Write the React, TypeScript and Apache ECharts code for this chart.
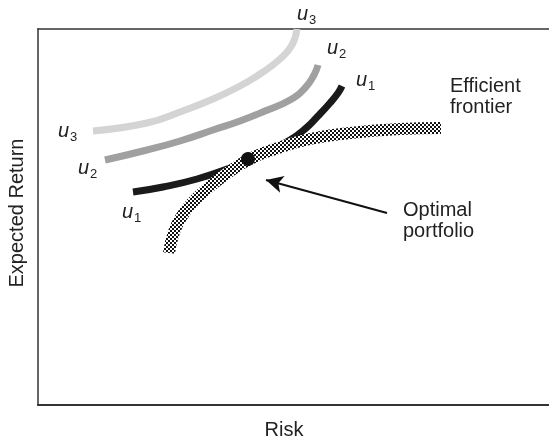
import { useEffect, useRef } from 'react';
import * as echarts from 'echarts';

// Values (risk on x, expected return on y; arbitrary units)
const u3Risk = [55, 109, 142, 175, 202, 222, 242, 254, 259];
const u3Return = [274, 282, 293, 306, 319, 331, 346, 360, 376];

const u2Risk = [67, 109, 142, 175, 202, 227, 252, 267, 276, 280];
const u2Return = [245, 255, 264, 275, 284, 294, 305, 317, 330, 340];

const u1Risk = [95, 125, 159, 192, 210, 232, 252, 267, 280, 292, 300, 304];
const u1Return = [213, 218, 226, 237, 245, 255, 265, 276, 289, 302, 312, 319];

const frontierRisk = [131, 136, 144, 155, 169, 184, 210, 237, 272, 312, 362, 403];
const frontierReturn = [152, 173, 189, 203, 216, 228, 245, 256, 266, 272, 276, 277];

const optimalRisk = [210];
const optimalReturn = [246];

const arrowFrom = [349, 192];
const arrowTo = [228, 225];

const xMax = 511;
const yMax = 376;

const pair = (xs: number[], ys: number[]) => xs.map((x, i) => [x, ys[i]]);

const FONT = "'Liberation Sans', Arial, Helvetica, sans-serif";
const TXT = '#222';

function uLabel(x: number, y: number, sub: string) {
  return [
    {
      type: 'text',
      x,
      y,
      style: { text: 'u', fontSize: 20, fontStyle: 'italic', fontFamily: FONT, fill: TXT, align: 'left', verticalAlign: 'middle' },
    },
    {
      type: 'text',
      x: x + 12,
      y: y + 6,
      style: { text: sub, fontSize: 13, fontFamily: FONT, fill: TXT, align: 'left', verticalAlign: 'middle' },
    },
  ];
}

export default function App() {
  const ref = useRef<HTMLDivElement>(null);
  useEffect(() => {
    const chart = echarts.init(ref.current!, null, { renderer: 'svg' });
    const cv = document.createElement('canvas');
    cv.width = 4;
    cv.height = 4;
    const ctx = cv.getContext('2d')!;
    ctx.fillStyle = '#ffffff';
    ctx.fillRect(0, 0, 4, 4);
    ctx.fillStyle = '#111111';
    ctx.fillRect(0, 0, 2, 2);
    ctx.fillRect(2, 2, 2, 2);
    const checker: any = { image: cv, repeat: 'repeat' };

    const lineBase = {
      type: 'line',
      showSymbol: false,
      symbol: 'none',
      smooth: 0.5,
      silent: true,
      xAxisIndex: 0,
      yAxisIndex: 0,
    };

    chart.setOption({
      animation: false,
      grid: { left: 38, right: 0, top: 29, bottom: 37 },
      xAxis: [
        {
          type: 'value',
          min: 0,
          max: xMax,
          position: 'bottom',
          axisLine: { show: true, onZero: false, lineStyle: { color: '#333', width: 2 } },
          axisTick: { show: false },
          axisLabel: { show: false },
          splitLine: { show: false },
        },
        {
          type: 'value',
          min: 0,
          max: xMax,
          position: 'top',
          axisLine: { show: true, onZero: false, lineStyle: { color: '#333', width: 1.5 } },
          axisTick: { show: false },
          axisLabel: { show: false },
          splitLine: { show: false },
        },
      ],
      yAxis: {
        type: 'value',
        min: 0,
        max: yMax,
        axisLine: { show: true, onZero: false, lineStyle: { color: '#666', width: 2 } },
        axisTick: { show: false },
        axisLabel: { show: false },
        splitLine: { show: false },
      },
      series: [
        { ...lineBase, name: 'u3', data: pair(u3Risk, u3Return), lineStyle: { color: '#d4d4d4', width: 7, cap: 'butt' } },
        { ...lineBase, name: 'u2', data: pair(u2Risk, u2Return), lineStyle: { color: '#a0a0a0', width: 7, cap: 'butt' } },
        { ...lineBase, name: 'u1', data: pair(u1Risk, u1Return), lineStyle: { color: '#1a1a1a', width: 7, cap: 'butt' } },
        { ...lineBase, name: 'Efficient frontier', data: pair(frontierRisk, frontierReturn), lineStyle: { color: checker, width: 12, cap: 'butt' } },
        {
          type: 'line',
          name: 'arrow',
          silent: true,
          data: [],
          markLine: {
            silent: true,
            symbol: ['none', 'arrow'],
            symbolSize: [13, 17],
            lineStyle: { color: '#111', width: 2, type: 'solid' },
            label: { show: false },
            data: [[{ coord: arrowFrom }, { coord: arrowTo }]],
          },
        },
        {
          type: 'scatter',
          name: 'Optimal portfolio',
          silent: true,
          z: 10,
          data: pair(optimalRisk, optimalReturn),
          symbol: 'circle',
          symbolSize: 14,
          itemStyle: { color: '#111111', opacity: 1 },
        },
      ],
      graphic: [
        ...uLabel(58, 130, '3'),
        ...uLabel(78, 167, '2'),
        ...uLabel(122, 211, '1'),
        ...uLabel(297, 13, '3'),
        ...uLabel(327, 47, '2'),
        ...uLabel(356, 79, '1'),
        {
          type: 'text',
          x: 450,
          y: 95,
          style: { text: 'Efficient\nfrontier', fontSize: 20, lineHeight: 21, fontFamily: FONT, fill: TXT, align: 'left', verticalAlign: 'middle' },
        },
        {
          type: 'text',
          x: 403,
          y: 219,
          style: { text: 'Optimal\nportfolio', fontSize: 20, lineHeight: 21, fontFamily: FONT, fill: TXT, align: 'left', verticalAlign: 'middle' },
        },
        {
          type: 'text',
          x: 284,
          y: 429,
          style: { text: 'Risk', fontSize: 20, fontFamily: FONT, fill: TXT, align: 'center', verticalAlign: 'middle' },
        },
        {
          type: 'text',
          x: 16,
          y: 213,
          rotation: Math.PI / 2,
          style: { text: 'Expected Return', fontSize: 20, fontFamily: FONT, fill: TXT, align: 'center', verticalAlign: 'middle' },
        },
      ],
    });
    return () => chart.dispose();
  }, []);
  return <div ref={ref} style={{ position: 'fixed', left: 0, top: 0, width: 549, height: 442 }} />;
}
